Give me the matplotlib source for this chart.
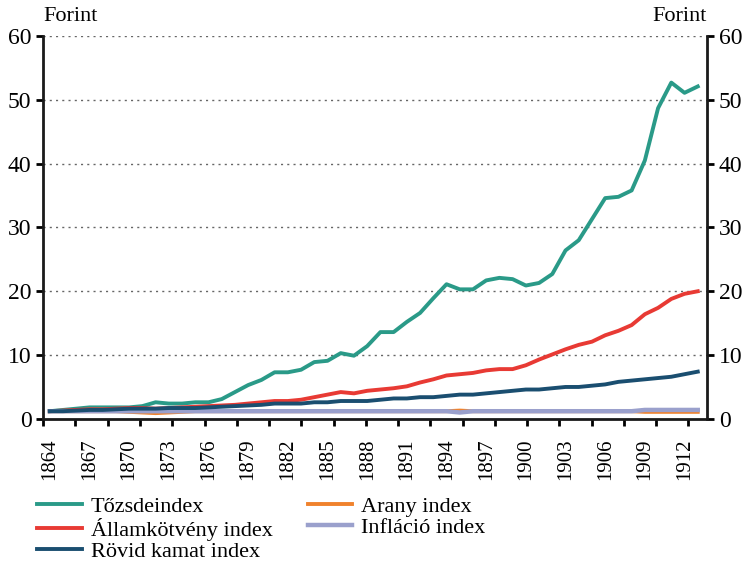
import numpy as np
import matplotlib.pyplot as plt

years = list(range(1864, 1914))

tozsde = [1.2, 1.4, 1.6, 1.8, 1.8, 1.8, 1.8, 2.0, 2.6, 2.4,
          2.4, 2.6, 2.6, 3.1, 4.2, 5.3, 6.1, 7.3, 7.3, 7.7,
          8.9, 9.1, 10.3, 9.9, 11.4, 13.6, 13.6, 15.2, 16.6, 18.9,
          21.1, 20.3, 20.3, 21.7, 22.1, 21.9, 20.9, 21.3, 22.7, 26.4,
          28.0, 31.3, 34.6, 34.8, 35.8, 40.5, 48.7, 52.7, 51.1, 52.1]
allamkotveny = [1.2, 1.3, 1.4, 1.5, 1.5, 1.6, 1.7, 1.7, 1.6, 1.7,
                1.8, 1.9, 2.0, 2.1, 2.2, 2.4, 2.6, 2.8, 2.8, 3.0,
                3.4, 3.8, 4.2, 4.0, 4.4, 4.6, 4.8, 5.1, 5.7, 6.2,
                6.8, 7.0, 7.2, 7.6, 7.8, 7.8, 8.4, 9.3, 10.1, 10.9,
                11.6, 12.1, 13.1, 13.8, 14.7, 16.4, 17.4, 18.8, 19.6, 20.0]
rovid_kamat = [1.2, 1.2, 1.3, 1.4, 1.4, 1.5, 1.6, 1.6, 1.6, 1.7,
               1.7, 1.7, 1.8, 1.9, 2.0, 2.1, 2.2, 2.4, 2.4, 2.4,
               2.6, 2.6, 2.8, 2.8, 2.8, 3.0, 3.2, 3.2, 3.4, 3.4,
               3.6, 3.8, 3.8, 4.0, 4.2, 4.4, 4.6, 4.6, 4.8, 5.0,
               5.0, 5.2, 5.4, 5.8, 6.0, 6.2, 6.4, 6.6, 7.0, 7.4]
arany = [1.2, 1.2, 1.2, 1.2, 1.2, 1.2, 1.1, 1.0, 0.9, 1.0,
         1.1, 1.2, 1.2, 1.2, 1.2, 1.2, 1.2, 1.2, 1.2, 1.2,
         1.2, 1.2, 1.2, 1.2, 1.2, 1.2, 1.2, 1.2, 1.2, 1.2,
         1.2, 1.3, 1.2, 1.2, 1.2, 1.2, 1.2, 1.2, 1.2, 1.2,
         1.2, 1.2, 1.2, 1.2, 1.2, 1.1, 1.1, 1.1, 1.1, 1.1]
inflacio = [1.2, 1.2, 1.2, 1.2, 1.2, 1.2, 1.2, 1.2, 1.2, 1.2,
            1.2, 1.2, 1.2, 1.2, 1.2, 1.2, 1.2, 1.2, 1.2, 1.2,
            1.2, 1.2, 1.2, 1.2, 1.2, 1.2, 1.2, 1.2, 1.2, 1.2,
            1.2, 1.0, 1.2, 1.2, 1.2, 1.2, 1.2, 1.2, 1.2, 1.2,
            1.2, 1.2, 1.2, 1.2, 1.2, 1.4, 1.4, 1.4, 1.4, 1.4]

plt.rcParams['font.family'] = ['Liberation Serif', 'DejaVu Serif']

fig = plt.figure(figsize=(7.45, 5.63), dpi=100)
ax = fig.add_axes([0.058, 0.256, 0.891, 0.68])

h1, = ax.plot(years, tozsde, color='#2a9a88', lw=2.8, label='Tőzsdeindex')
h2, = ax.plot(years, allamkotveny, color='#e83a34', lw=2.8, label='Államkötvény index')
h4, = ax.plot(years, arany, color='#f0822c', lw=2.8, label='Arany index')
h5, = ax.plot(years, inflacio, color='#9aa0cc', lw=3.2, label='Infláció index')
h3, = ax.plot(years, rovid_kamat, color='#1a4e70', lw=2.8, label='Rövid kamat index')

ax.set_xlim(1863.5, 1913.7)
ax.set_ylim(0, 60)
ax.set_yticks(range(0, 61, 10))
ax.set_xticks(years[::3])
ax.set_xticklabels([str(y) for y in years[::3]], rotation=90, fontsize=15)
ax.set_xticks(np.linspace(1863.5, 1863.5 + 20 * 2.44, 21), minor=True)
ax.tick_params(axis='x', which='major', length=0, pad=14)
ax.tick_params(axis='x', which='minor', length=5, width=2, direction='out')
ax.tick_params(axis='y', length=5, width=2, direction='out', labelsize=17,
               left=True, right=True, labelleft=True, labelright=True)

for s in ['left', 'right', 'bottom']:
    ax.spines[s].set_linewidth(2)
    ax.spines[s].set_color('#1a1a1a')
ax.spines['top'].set_visible(False)

for v in range(10, 61, 10):
    ax.axhline(v, color='#666666', lw=1, ls=(0, (1.5, 3)), zorder=0)

ax.text(0.0, 1.025, 'Forint', transform=ax.transAxes, fontsize=16,
        ha='left', va='bottom')
ax.text(1.0, 1.025, 'Forint', transform=ax.transAxes, fontsize=16,
        ha='right', va='bottom')

fig.legend(handles=[h1, h2, h3, h4, h5], ncol=2, loc='upper left',
           bbox_to_anchor=(0.05, 0.118), frameon=False, fontsize=16,
           handlelength=2.0, handletextpad=0.4, labelspacing=0.02,
           columnspacing=1.6, borderpad=0, borderaxespad=0)

fig.savefig('out.png', dpi=100)
